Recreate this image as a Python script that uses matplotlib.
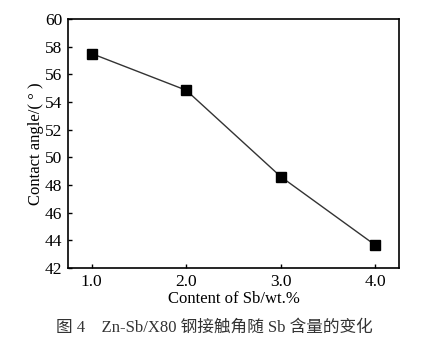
import matplotlib
matplotlib.use("Agg")
import matplotlib.pyplot as plt

# data
sb_content = [1.0, 2.0, 3.0, 4.0]
contact_angle = [57.5, 54.85, 48.6, 43.65]
x_ticks = [1.0, 2.0, 3.0, 4.0]
y_ticks = [42, 44, 46, 48, 50, 52, 54, 56, 58, 60]

plt.rcParams['font.family'] = ['Liberation Serif', 'Noto Sans CJK SC']
plt.rcParams['xtick.direction'] = 'in'
plt.rcParams['ytick.direction'] = 'in'

fig = plt.figure(figsize=(4.29, 3.42), dpi=100)
ax = fig.add_axes([68 / 429, 1 - 268 / 342, (399 - 68) / 429, (268 - 19) / 342])

ax.plot(sb_content, contact_angle, color='#333333', lw=1.0,
        marker='s', ms=6.5, mfc='black', mec='black')

ax.set_xlim(0.75, 4.25)
ax.set_ylim(42, 60)
ax.set_xticks(x_ticks)
ax.set_xticklabels(['%.1f' % v for v in x_ticks])
ax.set_yticks(y_ticks)
ax.tick_params(labelsize=12.5, length=3, width=1, pad=4)
for s in ax.spines.values():
    s.set_linewidth(1.2)

ax.set_xlabel('Content of Sb/wt.%', fontsize=12, labelpad=1)
ax.set_ylabel('Contact angle/( ° )', fontsize=12, labelpad=1)

fig.text(0.5, 1 - 328 / 342, '图 4    Zn-Sb/X80 钢接触角随 Sb 含量的变化',
         ha='center', va='center', fontsize=12, color='#333333')

fig.savefig('out.png', dpi=100)
